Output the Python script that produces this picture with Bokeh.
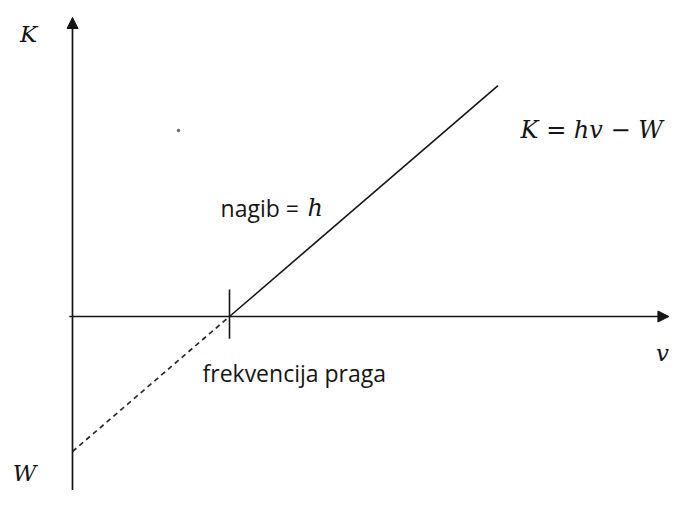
from bokeh.plotting import figure
from bokeh.models import Arrow, NormalHead, Range1d
from bokeh.core.properties import value
from bokeh.embed import file_html
from bokeh.resources import INLINE

# ---- data (arbitrary units) ----
nu0 = 1.0          # threshold frequency
W = 1.0            # work function
h = W / nu0        # slope
nu_solid = [nu0, 2.71]
nu_dashed = [0.0, nu0]
K_solid = [h * n - W for n in nu_solid]
K_dashed = [h * n - W for n in nu_dashed]

sx, sy = 157.0, 135.0   # px per unit
ox, oy = 72.0, 316.0    # origin in figure px

W_fig, H_fig = 670, 490
x0 = (0 - ox) / sx
x1 = (W_fig - ox) / sx
y1 = (oy - 0) / sy
y0 = (oy - H_fig) / sy

p = figure(width=W_fig, height=H_fig, output_backend="svg", toolbar_location=None,
           x_range=Range1d(x0, x1), y_range=Range1d(y0, y1),
           min_border=0, outline_line_color=None)
p.axis.visible = False
p.grid.visible = False
p.background_fill_color = "white"
p.border_fill_color = "white"

col = "#151515"
# axes with arrows
p.add_layout(Arrow(end=NormalHead(size=11, fill_color=col, line_color=col),
                   x_start=0, y_start=y0, x_end=0, y_end=(oy - 17) / sy,
                   line_color=col, line_width=1.7))
p.add_layout(Arrow(end=NormalHead(size=11, fill_color=col, line_color=col),
                   x_start=-0.02, y_start=0, x_end=x1 - 0.01, y_end=0,
                   line_color=col, line_width=1.7))

# K = h nu - W
p.line(nu_solid, K_solid, line_color=col, line_width=1.6)
p.line(nu_dashed, K_dashed, line_color="#2a2a2a", line_width=1.7, line_dash="5 4")
# threshold tick
p.segment(x0=[nu0], y0=[-0.165], x1=[nu0], y1=[0.2], line_color=col, line_width=1.6)

# stray dot
p.scatter([0.675], [1.378], size=2.5, color="#666666")

serif = value("DejaVu Serif")
sans = value("Open Sans")
p.text([-0.280], [2.096], text=["K"], text_font=serif, text_font_style="italic",
       text_font_size="23px", text_align="center", text_baseline="alphabetic", text_color=col)
p.text([-0.306], [-1.156], text=["W"], text_font=serif, text_font_style="italic",
       text_font_size="23px", text_align="center", text_baseline="alphabetic", text_color=col)
p.text([3.758], [-0.274], text=["v"], text_font=serif, text_font_style="italic",
       text_font_size="23px", text_align="center", text_baseline="alphabetic", text_color=col)
p.text([2.854], [1.378], text=["K = hv − W"], text_font=serif, text_font_style="italic",
       text_font_size="24px", text_align="left", text_baseline="alphabetic", text_color=col)
p.text([0.943], [0.807], text=["nagib ="], text_font=sans,
       text_font_size="23px", text_align="left", text_baseline="alphabetic", text_color=col)
p.text([1.497], [0.807], text=["h"], text_font=serif, text_font_style="italic",
       text_font_size="24px", text_align="left", text_baseline="alphabetic", text_color=col)
p.text([0.828], [-0.422], text=["frekvencija praga"], text_font=sans,
       text_font_size="23px", text_align="left", text_baseline="alphabetic", text_color=col)

open("out.html", "w").write(file_html(p, INLINE))
